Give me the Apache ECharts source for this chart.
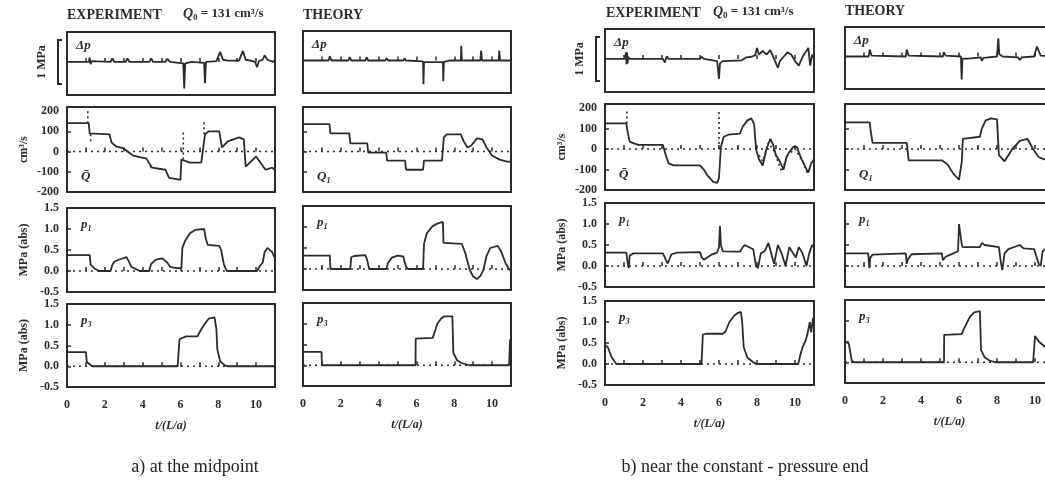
<!DOCTYPE html>
<html><head><meta charset="utf-8">
<script src="https://cdn.jsdelivr.net/npm/echarts@6/dist/echarts.min.js"></script>
<style>html,body{margin:0;padding:0;background:#fff}#c{width:1045px;height:495px}</style>
</head><body><div id="c"></div>
<script>
// ---------- data (t in units of L/a) ----------
const tTickLabels = [0, 2, 4, 6, 8, 10];
const qTicks = [-200, -100, 0, 100, 200];
const pTicks = [-0.5, 0.0, 0.5, 1.0, 1.5];

const aExpDp = [[0,0],[1.15,0],[1.2,0.1],[1.25,-0.05],[1.3,0.02],[1.4,0],[2.3,0],[2.4,0.08],[2.5,0],[3.1,0],[3.2,0.08],[3.3,0],[4.35,0],[4.45,0.08],[4.55,0],[5.2,0],[5.3,0.07],[5.45,0],[6.15,-0.03],[6.2,-0.6],[6.25,-0.03],[6.6,0.0],[7.25,-0.02],[7.3,-0.48],[7.35,0],[7.9,0.02],[8.1,0.23],[8.25,0.05],[8.5,0.03],[9.1,0.03],[9.3,0.25],[9.45,0.05],[9.7,0.03],[9.95,0],[10.05,-0.12],[10.15,0.02],[10.35,0.05],[10.45,0.15],[10.6,0.05],[10.9,0.0],[11,0.05]];
const aThDp = [[0,0],[1.35,0],[1.42,0.1],[1.5,0],[2.4,0],[2.47,0.08],[2.55,0],[3.3,0],[3.37,0.07],[3.45,0],[4.35,0],[4.42,0.05],[4.5,0],[5.3,0],[5.37,0.05],[5.45,0],[6.35,-0.02],[6.37,-0.55],[6.4,-0.04],[7.4,-0.04],[7.42,-0.48],[7.45,-0.03],[7.8,0],[8.35,0],[8.37,0.34],[8.4,0],[9.38,0],[9.42,0.23],[9.47,0],[10.35,0],[10.38,0.23],[10.42,0],[11,0]];
const bExpDp = [[0,0],[1.05,0],[1.1,0.15],[1.13,-0.12],[1.16,0.15],[1.19,-0.1],[1.22,0.05],[1.3,0],[3.05,0],[3.15,-0.08],[3.25,0.06],[3.35,0],[5.0,0],[5.1,0.05],[5.2,0],[5.9,-0.05],[6.0,-0.45],[6.05,-0.1],[6.2,-0.05],[7.2,-0.03],[7.4,0.03],[7.7,0.05],[7.9,0.08],[8.0,0.25],[8.1,0.1],[8.3,0.18],[8.5,0.1],[8.7,0.2],[8.9,0.0],[9.1,-0.2],[9.2,-0.05],[9.4,0.05],[9.6,0.15],[9.8,0.1],[10.0,-0.05],[10.2,-0.15],[10.4,0.05],[10.55,0.15],[10.7,0.25],[10.8,-0.15],[10.9,0.1],[11,0.0]];
const bThDp = [[0,0],[1.25,0],[1.3,0.16],[1.4,0.02],[1.5,0],[3.2,0],[3.25,0.16],[3.35,0.02],[3.45,0],[5.15,0],[5.2,0.1],[5.3,0.02],[6.1,0],[6.14,-0.53],[6.18,-0.05],[6.5,-0.05],[7.15,-0.02],[7.2,-0.1],[7.3,-0.03],[8.0,0],[8.07,0.42],[8.12,0.05],[8.3,0],[9.1,-0.02],[9.2,-0.08],[9.3,-0.02],[9.95,0],[10.1,0.23],[10.3,0.02],[11,0]];

const aExpQ = [[0,140],[1.15,140],[1.2,90],[1.3,85],[2.25,85],[2.35,45],[2.6,25],[3.0,15],[3.2,0],[3.5,-20],[4.2,-35],[4.5,-80],[5.2,-90],[5.4,-130],[6.0,-140],[6.05,-40],[6.5,-55],[7.1,-55],[7.3,85],[7.5,100],[8.05,100],[8.2,20],[8.5,50],[9.1,70],[9.35,60],[9.45,-75],[10.0,-25],[10.5,-90],[10.85,-80],[11,-90]];
const aExpQdot = [[1.1,140],[1.1,200],null,[1.25,85],[1.25,45],null,[6.15,-40],[6.15,95],null,[7.25,85],[7.25,150],null,[4.4,-70],[4.45,-80]];
const aThQ = [[0,135],[1.4,135],[1.45,90],[2.45,90],[2.5,40],[3.4,40],[3.45,-5],[4.4,-5],[4.45,-45],[5.4,-45],[5.45,-90],[6.35,-90],[6.4,-45],[7.35,-45],[7.45,70],[7.6,85],[8.35,85],[8.5,50],[8.7,20],[8.9,30],[9.2,65],[9.5,60],[9.7,20],[10.0,-20],[10.4,-40],[10.8,-50],[11,-50]];
const bExpQ = [[0,125],[1.12,125],[1.2,80],[1.3,35],[1.75,20],[3.05,20],[3.2,-30],[3.35,-70],[3.6,-80],[5.0,-80],[5.2,-100],[5.4,-130],[5.7,-160],[5.9,-165],[6.0,-140],[6.1,10],[6.25,60],[6.5,70],[7.1,75],[7.25,110],[7.5,140],[7.7,150],[7.85,120],[7.95,0],[8.1,-50],[8.3,-80],[8.5,0],[8.7,50],[8.85,20],[9.0,-30],[9.2,-60],[9.4,-100],[9.55,-40],[9.7,-15],[9.9,10],[10.1,10],[10.3,-40],[10.5,-80],[10.7,-115],[10.85,-70],[11,-50]];
const bExpQdot = [[1.15,125],[1.15,195],null,[6.0,0],[6.0,195],null,[8.1,-30],[8.3,-60],[8.6,30],[8.9,-10],[9.3,-110],[9.6,-30],[10.0,0],[10.4,-60],[10.7,-130]];
const bThQ = [[0,130],[1.3,130],[1.35,90],[1.45,30],[3.25,30],[3.35,-55],[5.1,-55],[5.4,-75],[5.7,-120],[6.0,-150],[6.1,-150],[6.15,-60],[6.2,50],[7.1,60],[7.2,100],[7.4,140],[7.7,150],[8.0,145],[8.1,-30],[8.4,-60],[8.8,0],[9.2,40],[9.6,50],[9.9,0],[10.2,-40],[10.5,-50],[11,-40]];

const aExpP1 = [[0,0.38],[1.2,0.38],[1.25,0.15],[1.45,0.06],[1.7,0.0],[2.3,0.0],[2.4,0.15],[2.5,0.22],[2.8,0.28],[3.15,0.33],[3.3,0.2],[3.4,0.1],[3.85,0.0],[4.35,0.0],[4.45,0.17],[4.7,0.27],[5.05,0.3],[5.3,0.2],[5.45,0.1],[5.8,0.07],[6.05,0.07],[6.1,0.55],[6.25,0.72],[6.5,0.9],[6.8,0.98],[7.25,1.0],[7.35,0.75],[7.45,0.62],[8.05,0.6],[8.15,0.5],[8.3,0.15],[8.45,0.0],[10.05,0.0],[10.2,0.12],[10.35,0.2],[10.45,0.45],[10.6,0.55],[10.85,0.45],[11,0.3]];
const aThP1 = [[0,0.32],[1.42,0.32],[1.45,0],[2.5,0],[2.55,0.28],[2.7,0.31],[3.3,0.33],[3.4,0.2],[3.5,0],[4.4,0],[4.5,0.15],[4.7,0.27],[5.0,0.32],[5.3,0.3],[5.45,0.05],[5.55,0],[6.35,0],[6.4,0.6],[6.55,0.85],[6.85,1.02],[7.1,1.08],[7.4,1.12],[7.43,0.62],[8.4,0.6],[8.6,0.35],[8.8,0.0],[9.0,-0.18],[9.2,-0.24],[9.4,-0.15],[9.55,0.0],[9.7,0.3],[9.9,0.5],[10.3,0.55],[10.5,0.4],[10.7,0.15],[10.9,0.0],[11,-0.05]];
const bExpP1 = [[0,0.32],[1.12,0.32],[1.2,0.05],[1.25,-0.05],[1.3,0.25],[1.5,0.3],[3.05,0.3],[3.2,0.15],[3.3,0.06],[3.5,0.28],[3.8,0.32],[5.0,0.33],[5.1,0.2],[5.2,0.15],[5.6,0.27],[5.9,0.32],[6.0,0.45],[6.05,0.95],[6.1,0.5],[6.2,0.35],[7.1,0.34],[7.25,0.45],[7.35,0.5],[7.8,0.4],[7.95,0.0],[8.05,-0.05],[8.2,0.3],[8.4,0.35],[8.6,0.55],[8.75,0.3],[8.9,0.05],[9.1,0.5],[9.3,0.3],[9.5,0.0],[9.7,0.45],[9.9,0.3],[10.05,0.2],[10.2,0.45],[10.4,0.3],[10.6,0.0],[10.75,0.3],[10.9,0.5],[11,0.45]];
const bThP1 = [[0,0.3],[1.22,0.3],[1.28,-0.05],[1.33,0.2],[1.45,0.27],[3.2,0.3],[3.25,0.05],[3.3,0.15],[3.5,0.28],[5.1,0.3],[5.15,0.14],[5.3,0.22],[5.7,0.3],[5.95,0.35],[6.0,1.0],[6.1,1.0],[6.15,0.5],[6.2,0.45],[7.1,0.45],[7.2,0.55],[7.35,0.5],[8.1,0.45],[8.2,0.1],[8.28,-0.1],[8.4,0.3],[8.6,0.4],[9.2,0.5],[9.4,0.42],[9.95,0.4],[10.2,0.05],[10.3,0.0],[10.4,0.35],[10.6,0.42],[11,0.45]];

const aExpP3 = [[0,0.34],[1.0,0.34],[1.05,0.1],[1.2,0.05],[1.35,0],[5.85,0],[5.95,0.65],[6.3,0.72],[6.9,0.72],[7.05,0.85],[7.25,1.0],[7.5,1.15],[7.8,1.18],[7.9,0.9],[7.95,0.4],[8.1,0.12],[8.35,0.02],[8.5,0],[11,0]];
const aThP3 = [[0,0.32],[0.98,0.32],[1.0,0],[5.95,0],[5.96,0.64],[6.86,0.66],[7.0,0.85],[7.1,1.0],[7.3,1.12],[7.47,1.18],[7.9,1.18],[7.95,0.3],[8.15,0.12],[8.35,0.06],[8.8,0],[10.9,0],[10.95,0.6],[11,0.65]];
const bExpP3 = [[0,0.44],[0.15,0.4],[0.35,0.16],[0.6,0],[5.08,0],[5.15,0.7],[5.3,0.72],[6.2,0.72],[6.35,0.78],[6.55,1.0],[6.8,1.15],[7.0,1.22],[7.15,1.24],[7.22,1.0],[7.3,0.4],[7.5,0.15],[7.8,0.04],[8.0,0],[10.17,0],[10.3,0.25],[10.4,0.4],[10.55,0.55],[10.65,0.7],[10.78,1.0],[10.85,0.75],[10.95,1.1],[11,1.0]];
const bThP3 = [[0,0.5],[0.2,0.45],[0.35,0.05],[0.45,0],[5.21,0],[5.22,0.66],[6.14,0.68],[6.25,0.8],[6.58,1.1],[6.8,1.2],[7.1,1.23],[7.16,0.3],[7.35,0.12],[7.6,0.04],[7.9,0],[9.9,0],[10.0,0.63],[10.2,0.5],[10.5,0.38],[10.8,0.25],[11,0.15]];
const zeroLine = [[0,0],[11,0]];

// ---------- layout ----------
const INK = '#2b2b2b';
const SERIF = '"Liberation Serif", "DejaVu Serif", serif';
const cols = [
  {left:67,  width:208, exp:true,  rows:[[32,63],[107,85],[208,84],[304,83]], series:[aExpDp,aExpQ,aExpP1,aExpP3], qdot:aExpQdot, labels:['Δp','Q̄','p₁','p₃']},
  {left:303, width:208, exp:false, rows:[[31,62],[107,85],[206,84],[303,83]], series:[aThDp,aThQ,aThP1,aThP3], labels:['Δp','Q₁','p₁','p₃']},
  {left:605, width:209, exp:true,  rows:[[29,63],[104,86],[203,84],[301,84]], series:[bExpDp,bExpQ,bExpP1,bExpP3], qdot:bExpQdot, labels:['Δp','Q̄','p₁','p₃']},
  {left:845, width:209, exp:false, rows:[[27,62],[104,86],[203,84],[300,83]], series:[bThDp,bThQ,bThP1,bThP3], labels:['Δp','Q₁','p₁','p₃']}
];
const yRanges = [[-0.75,0.68,null],[-200,220,100],[-0.5,1.5,0.5],[-0.5,1.5,0.5]];

const grid=[], xAxis=[], yAxis=[], series=[], graphic=[];
cols.forEach((c,ci)=>{
  c.rows.forEach((r,ri)=>{
    const gi = grid.length;
    grid.push({left:c.left, top:r[0], width:c.width, height:r[1], show:true, borderColor:INK, borderWidth:2,
      backgroundColor:'transparent', containLabel:false, outerBoundsMode:'none'});
    const bottomRow = ri===3;
    xAxis.push({type:'value', gridIndex:gi, min:0, max:11, interval:1,
      axisLine:{show:false}, splitLine:{show:false},
      axisTick:{show:true, inside:true, length:4, lineStyle:{color:INK, width:1.5}},
      axisLabel:{show:bottomRow, margin:12, color:INK, fontFamily:SERIF, fontWeight:'bold', fontSize:12,
        formatter:v=> tTickLabels.indexOf(v)>=0 ? String(v) : ''},
      name: bottomRow ? 't/(L/a)' : '', nameLocation:'middle', nameGap:33,
      nameTextStyle:{color:INK, fontFamily:SERIF, fontStyle:'italic', fontWeight:'bold', fontSize:12}
    });
    const yr = yRanges[ri];
    const ya = {type:'value', gridIndex:gi, min:yr[0], max:yr[1], axisLine:{show:false}, splitLine:{show:false}};
    if (ri===0) {
      ya.axisTick={show:false}; ya.axisLabel={show:false};
    } else {
      ya.interval = yr[2];
      const allowed = ri===1 ? qTicks : pTicks;
      const inner = allowed.slice(1, -1);
      ya.axisTick = {show:true, inside:true, length:4, lineStyle:{color:INK, width:1.5},
        customValues: inner};
      ya.axisLabel = {show:c.exp, margin:8, color:INK, fontFamily:SERIF, fontWeight:'bold', fontSize:12,
        customValues: allowed,
        formatter:v=> ri===1 ? String(v) : Number(v).toFixed(1)};
      if (c.exp) {
        ya.name = ri===1 ? 'cm³/s' : 'MPa (abs)';
        ya.nameLocation='middle'; ya.nameRotate=90; ya.nameGap = 37;
        ya.nameTextStyle = {color:INK, fontFamily:SERIF, fontWeight:'bold', fontSize:12};
      }
    }
    yAxis.push(ya);
    if (ri>0) series.push({type:'line', xAxisIndex:gi, yAxisIndex:gi, data:zeroLine, symbol:'none', silent:true, z:1,
      lineStyle:{color:INK, width:1.6, type:[2,4]}});
    if (ri===1 && c.qdot) series.push({type:'line', xAxisIndex:gi, yAxisIndex:gi, data:c.qdot, symbol:'none', silent:true, z:1, connectNulls:false,
      lineStyle:{color:INK, width:1.6, type:[2,3]}});
    series.push({type:'line', xAxisIndex:gi, yAxisIndex:gi, data:c.series[ri], symbol:'none', silent:true, z:3,
      lineStyle:{color:INK, width:1.8}});
    // panel label
    const lab = c.labels[ri];
    let lx = c.left + (ri===0 ? 9 : 14), ly;
    if (ri===0) ly = r[0]+7; else if (ri===1) ly = r[0]+r[1]-22; else ly = r[0]+10;
    graphic.push({type:'text', left:lx, top:ly, style:{text:lab, fill:INK, font:'italic bold 13px '+SERIF}});
  });
});

// headers
function header(x,y,txt){ graphic.push({type:'text', left:x, top:y, style:{text:txt, fill:INK, font:'bold 14px '+SERIF}}); }
header(67,8,'EXPERIMENT'); header(303,8,'THEORY'); header(606,6,'EXPERIMENT'); header(845,4,'THEORY');
function qzero(x,y){ graphic.push({type:'text', left:x, top:y, style:{rich:{i:{font:'italic bold 14px '+SERIF, fill:INK}, s:{font:'bold 9px '+SERIF, fill:INK, padding:[7,0,0,0]}, n:{font:'bold 13px '+SERIF, fill:INK}}, text:'{i|Q}{s|0}{n| = 131 cm³/s}'}}); }
qzero(183,7); qzero(713,5);
// captions
graphic.push({type:'text', x:195, y:467, style:{text:'a) at the midpoint', fill:'#222', font:'18px '+SERIF, align:'center', verticalAlign:'middle'}});
graphic.push({type:'text', x:745, y:467, style:{text:'b) near the constant - pressure end', fill:'#222', font:'18px '+SERIF, align:'center', verticalAlign:'middle'}});

const chart = echarts.init(document.getElementById('c'), null, {renderer:'canvas'});
chart.setOption({animation:false, backgroundColor:'#fff', grid, xAxis, yAxis, series, graphic});

// 1 MPa scale brackets on the Δp panels, placed through the Δp axes
[0, 8].forEach((gi)=>{
  const pTop = chart.convertToPixel({gridIndex:gi}, [0, 0.5]);
  const pBot = chart.convertToPixel({gridIndex:gi}, [0, -0.5]);
  const bx = pTop[0] - 9;
  graphic.push({type:'polyline', shape:{points:[[bx+4,pTop[1]],[bx,pTop[1]],[bx,pBot[1]],[bx+4,pBot[1]]]}, style:{stroke:INK, lineWidth:2, fill:null}});
  graphic.push({type:'text', x:bx-16, y:(pTop[1]+pBot[1])/2, rotation:Math.PI/2, style:{text:'1 MPa', fill:INK, font:'bold 12px '+SERIF, align:'center', verticalAlign:'middle'}});
});
chart.setOption({graphic});
</script></body></html>
